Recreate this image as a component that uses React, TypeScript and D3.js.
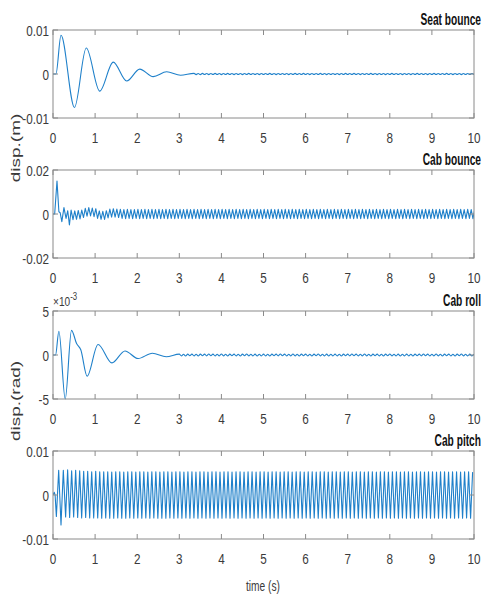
import React, { useEffect, useRef } from 'react'
import * as d3 from 'd3'

// ---- axis ticks ----
const timeTicks = [0, 1, 2, 3, 4, 5, 6, 7, 8, 9, 10]
const seatTicks = [-0.01, 0, 0.01]
const seatTickLabels = ['-0.01', '0', '0.01']
const cabBounceTicks = [-0.02, 0, 0.02]
const cabBounceTickLabels = ['-0.02', '0', '0.02']
const rollTicks = [-5, 0, 5]
const rollTickLabels = ['-5', '0', '5']
const pitchTicks = [-0.01, 0, 0.01]
const pitchTickLabels = ['-0.01', '0', '0.01']

// ---- seat bounce (mm) ----
const seatTimes = [0, 0.07, 0.19, 0.51, 0.79, 1.11, 1.43, 1.75, 2.06, 2.38, 2.7, 3.03, 3.35]
const seatValues = [0, 0, 8.8, -7.6, 5.9, -3.9, 2.7, -1.6, 1.1, -0.6, 0.5, -0.3, 0.15]
const seatRippleStart = 3.4
const seatRippleStep = 0.05
const seatRipple = [
     -0.14, 0.13, -0.15, 0.14, -0.12, 0.13, -0.14, 0.12, -0.13, 0.14,
     -0.12, 0.13, -0.14, 0.12, -0.13, 0.14, -0.12, 0.13, -0.14, 0.12,
     -0.13, 0.12, -0.14, 0.13, -0.12, 0.14, -0.13, 0.12, -0.12, 0.13,
     -0.14, 0.12, -0.13, 0.13, -0.12, 0.14, -0.13, 0.12, -0.14, 0.13,
     -0.12, 0.13, -0.13, 0.12, -0.14, 0.13, -0.12, 0.14, -0.13, 0.12,
     -0.13, 0.14, -0.12, 0.13, -0.14, 0.12, -0.13, 0.13, -0.12, 0.14,
     -0.13, 0.12, -0.14, 0.13, -0.12, 0.13, -0.13, 0.12, -0.14, 0.13,
     -0.12, 0.14, -0.13, 0.12, -0.13, 0.14, -0.12, 0.13, -0.14, 0.12,
     -0.13, 0.13, -0.12, 0.14, -0.13, 0.12, -0.14, 0.13, -0.12, 0.13,
     -0.14, 0.12, -0.13, 0.14, -0.12, 0.13, -0.13, 0.12, -0.14, 0.13,
     -0.12, 0.13, -0.14, 0.12, -0.13, 0.14, -0.12, 0.13, -0.13, 0.12,
     -0.14, 0.13, -0.12, 0.14, -0.13, 0.12, -0.13, 0.13, -0.12, 0.14,
     -0.13, 0.12, -0.14, 0.13, -0.12, 0.13, -0.14, 0.12, -0.13, 0.13,
     -0.12, 0.13, -0.13,
]

// ---- cab bounce (mm) ----
const cabBounceTimes = [0, 0.04, 0.095, 0.14, 0.17, 0.21, 0.26, 0.31, 0.35, 0.39, 0.43]
const cabBounceValues = [0, 0, 15, 1, 0.6, -3.5, 2.9, -2.0, 1.5, -5.0, 1.8]
const cabBounceRestStart = 0.475
const cabBounceRestStep = 1 / 24
const cabBounceRest = [
     -2.6, 1.4, -2.4, 1.6, -2.2, 1.8, -1.6,
     2.6, -1.0, 2.9, -0.9, 2.7, -1.2, 2.4,
     -2.0, 1.4, -2.4, 1.2, -2.5, 1.5,
     -1.8, 2.2, -1.4, 2.4, -1.4, 2.2, -1.6,
     2.1, -2.0, 2.0, -2.1, 2.1, -2.0, 2.0, -2.1, 2.0, -2.0,
     2.1, -2.1, 2.0, -2.0, 2.1, -2.1, 2.0, -2.0, 2.1, -2.1,
     2.0, -2.0, 2.1, -2.1, 2.0, -2.0, 2.1, -2.1, 2.0, -2.0,
     2.1, -2.1, 2.0, -2.0, 2.1, -2.0, 2.0, -2.1, 2.1, -2.0,
     2.0, -2.1, 2.1, -2.0, 2.0, -2.1, 2.1, -2.0, 2.0, -2.1,
     2.1, -2.0, 2.0, -2.1, 2.1, -2.0, 2.0, -2.1, 2.1, -2.0,
     2.0, -2.1, 2.1, -2.0, 2.0, -2.1, 2.1, -2.0, 2.0, -2.1,
     2.1, -2.0, 2.0, -2.1, 2.1, -2.0, 2.0, -2.1, 2.1, -2.0,
     2.0, -2.1, 2.1, -2.0, 2.0, -2.1, 2.1, -2.0, 2.0, -2.1,
     2.1, -2.0, 2.0, -2.1, 2.1, -2.0, 2.0, -2.1, 2.1, -2.0,
     2.0, -2.1, 2.1, -2.0, 2.0, -2.1, 2.1, -2.0, 2.0, -2.1,
     2.1, -2.0, 2.0, -2.1, 2.1, -2.0, 2.0, -2.1, 2.1, -2.0,
     2.0, -2.1, 2.1, -2.0, 2.0, -2.1, 2.1, -2.0, 2.0, -2.1,
     2.1, -2.0, 2.0, -2.1, 2.1, -2.0, 2.0, -2.1, 2.1, -2.0,
     2.0, -2.1, 2.1, -2.0, 2.0, -2.1, 2.1, -2.0, 2.0, -2.1,
     2.1, -2.0, 2.0, -2.1, 2.1, -2.0, 2.0, -2.1, 2.1, -2.0,
     2.0, -2.1, 2.1, -2.0, 2.0, -2.1, 2.1, -2.0, 2.0, -2.1,
     2.1, -2.0, 2.0, -2.1, 2.1, -2.0, 2.0, -2.1, 2.1, -2.0,
     2.0, -2.1, 2.1, -2.0, 2.0, -2.1, 2.1, -2.0, 2.0, -2.1,
     2.1, -2.0, 2.0, -2.1, 2.1, -2.0, 2.0, -2.1, 2.1, -2.0,
     2.0, -2.1, 2.1, -2.0, 2.0, -2.1, 2.1, -2.0, 2.0, -2.1,
     2.1, -2.0, 2.0,
]

// ---- cab roll (x10^-3 rad) ----
const rollTimes = [0, 0.06, 0.14, 0.29, 0.44, 0.56, 0.66, 0.81, 1.07, 1.4, 1.71, 2.02, 2.36, 2.69, 3.0]
const rollValues = [0, 0, 2.7, -5.0, 2.8, 1.3, 0.6, -2.4, 1.2, -0.9, 0.46, -0.4, 0.2, -0.2, 0.1]
const rollRippleStart = 3.05
const rollRippleStep = 0.05
const rollRipple = [
     -0.1, 0.09, -0.11, 0.1, -0.09, 0.1, -0.1, 0.09, -0.11, 0.1,
     -0.09, 0.1, -0.1, 0.11, -0.09, 0.1, -0.1, 0.09, -0.1, 0.11,
     -0.1, 0.09, -0.11, 0.1, -0.09, 0.1, -0.1, 0.09, -0.11, 0.1,
     -0.09, 0.11, -0.1, 0.09, -0.1, 0.1, -0.11, 0.09, -0.1, 0.1,
     -0.1, 0.09, -0.11, 0.1, -0.09, 0.1, -0.1, 0.11, -0.09, 0.1,
     -0.1, 0.09, -0.1, 0.11, -0.1, 0.09, -0.11, 0.1, -0.09, 0.1,
     -0.1, 0.09, -0.11, 0.1, -0.09, 0.11, -0.1, 0.09, -0.1, 0.1,
     -0.11, 0.09, -0.1, 0.1, -0.1, 0.09, -0.11, 0.1, -0.09, 0.1,
     -0.1, 0.11, -0.09, 0.1, -0.1, 0.09, -0.1, 0.11, -0.1, 0.09,
     -0.11, 0.1, -0.09, 0.1, -0.1, 0.09, -0.11, 0.1, -0.09, 0.11,
     -0.1, 0.09, -0.1, 0.1, -0.11, 0.09, -0.1, 0.1, -0.1, 0.09,
     -0.11, 0.1, -0.09, 0.1, -0.1, 0.11, -0.09, 0.1, -0.1, 0.09,
     -0.1, 0.11, -0.1, 0.09, -0.11, 0.1, -0.09, 0.1, -0.1, 0.09,
     -0.11, 0.1, -0.09, 0.11, -0.1, 0.09, -0.1, 0.1, -0.11, 0.09,
]

// ---- cab pitch (x10^-3 rad) ----
const pitchTimes = [0, 0.03, 0.05, 0.08, 0.135, 0.19, 0.245]
const pitchValues = [0, 0.6, 0, -4.9, 5.6, -6.8, 5.6]
const pitchRestStart = 0.3
const pitchRestStep = 1 / 21
const pitchRest = [
     -5.0, 5.7, -5.1, 5.5, -5.0, 5.6, -5.1, 5.5, -5.2, 5.4,
     -5.1, 5.4, -5.2, 5.3, -5.2, 5.4, -5.2, 5.3, -5.3, 5.3,
     -5.2, 5.3, -5.3, 5.2, -5.3, 5.3, -5.2, 5.3, -5.3, 5.2,
     -5.3, 5.3, -5.2, 5.3, -5.3, 5.2, -5.2, 5.3, -5.3, 5.3,
     -5.2, 5.2, -5.3, 5.3, -5.2, 5.3, -5.3, 5.2, -5.3, 5.3,
     -5.3, 5.3, -5.2, 5.2, -5.3, 5.3, -5.2, 5.3, -5.3, 5.2,
     -5.2, 5.3, -5.3, 5.3, -5.2, 5.2, -5.3, 5.3, -5.2, 5.3,
     -5.3, 5.2, -5.2, 5.3, -5.3, 5.3, -5.2, 5.2, -5.3, 5.3,
     -5.2, 5.3, -5.3, 5.2, -5.2, 5.3, -5.3, 5.3, -5.2, 5.2,
     -5.3, 5.3, -5.2, 5.3, -5.3, 5.2, -5.2, 5.3, -5.3, 5.3,
     -5.2, 5.2, -5.3, 5.3, -5.2, 5.3, -5.3, 5.2, -5.2, 5.3,
     -5.3, 5.3, -5.2, 5.2, -5.3, 5.3, -5.2, 5.3, -5.3, 5.2,
     -5.2, 5.3, -5.3, 5.3, -5.2, 5.2, -5.3, 5.3, -5.2, 5.3,
     -5.3, 5.2, -5.2, 5.3, -5.3, 5.3, -5.2, 5.2, -5.3, 5.3,
     -5.2, 5.3, -5.3, 5.2, -5.2, 5.3, -5.3, 5.3, -5.2, 5.2,
     -5.3, 5.3, -5.2, 5.3, -5.3, 5.2, -5.2, 5.3, -5.3, 5.3,
     -5.2, 5.2, -5.3, 5.3, -5.2, 5.3, -5.3, 5.2, -5.2, 5.3,
     -5.3, 5.3, -5.2, 5.2, -5.3, 5.3, -5.2, 5.3, -5.3, 5.2,
     -5.2, 5.3, -5.3, 5.3, -5.2, 5.2, -5.3, 5.3, -5.2, 5.3,
     -5.3, 5.2, -5.2, 5.3, -5.3, 5.3, -5.2, 5.2, -5.3, 5.3,
     -5.2, 5.3, -5.3, 5.2,
]

const buildSeries = (
     times: number[],
     values: number[],
     restStart: number,
     restStep: number,
     rest: number[],
     unit: number
): [number, number][] => {
     const pts: [number, number][] = times.map((t, i) => [t, values[i] * unit])
     rest.forEach((v, i) => pts.push([restStart + i * restStep, v * unit]))
     return pts
}

const font = "'Liberation Sans', Arial, Helvetica, sans-serif"
const lineColor = '#1f80ca'
const boxColor = '#8a8a8a'
const textColor = '#3a3a3a'

const App = () => {
     const svgRef = useRef<SVGSVGElement | null>(null)

     useEffect(() => {
          const width = 484
          const height = 599
          const plotLeft = 53
          const plotRight = 474
          const panelHeight = 88
          const tickLen = 5

          const svg = d3.select(svgRef.current)
          svg.selectAll('*').remove()
          svg.attr('width', width).attr('height', height)

          const addText = (
               parent: any,
               x: number,
               y: number,
               str: string,
               size: number,
               sx: number,
               anchor: string,
               weight = 'normal',
               rotate = false
          ) =>
               parent
                    .append('g')
                    .attr(
                         'transform',
                         `translate(${x},${y}) scale(${sx},1)` + (rotate ? ' rotate(-90)' : '')
                    )
                    .append('text')
                    .attr('text-anchor', anchor)
                    .style('font-family', font)
                    .style('font-size', size + 'px')
                    .style('font-weight', weight)
                    .attr('fill', weight === 'bold' ? '#111' : textColor)
                    .text(str)

          const panels = [
               {
                    title: 'Seat bounce',
                    top: 30,
                    domain: [-0.01, 0.01],
                    ticks: seatTicks,
                    tickLabels: seatTickLabels,
                    points: buildSeries(seatTimes, seatValues, seatRippleStart, seatRippleStep, seatRipple, 1e-3),
                    curve: d3.curveMonotoneX,
               },
               {
                    title: 'Cab bounce',
                    top: 170,
                    domain: [-0.02, 0.02],
                    ticks: cabBounceTicks,
                    tickLabels: cabBounceTickLabels,
                    points: buildSeries(cabBounceTimes, cabBounceValues, cabBounceRestStart, cabBounceRestStep, cabBounceRest, 1e-3),
                    curve: d3.curveLinear,
               },
               {
                    title: 'Cab roll',
                    top: 311,
                    domain: [-5, 5],
                    ticks: rollTicks,
                    tickLabels: rollTickLabels,
                    points: buildSeries(rollTimes, rollValues, rollRippleStart, rollRippleStep, rollRipple, 1),
                    curve: d3.curveMonotoneX,
                    exponent: true,
               },
               {
                    title: 'Cab pitch',
                    top: 451,
                    domain: [-0.01, 0.01],
                    ticks: pitchTicks,
                    tickLabels: pitchTickLabels,
                    points: buildSeries(pitchTimes, pitchValues, pitchRestStart, pitchRestStep, pitchRest, 1e-3),
                    curve: d3.curveLinear,
               },
          ]

          const xScale = d3.scaleLinear().domain([0, 10]).range([plotLeft, plotRight])

          panels.forEach((p, idx) => {
               const top = p.top
               const bottom = top + panelHeight
               const yScale = d3.scaleLinear().domain(p.domain).range([bottom, top])
               const g = svg.append('g')

               g.append('rect')
                    .attr('x', plotLeft)
                    .attr('y', top)
                    .attr('width', plotRight - plotLeft)
                    .attr('height', panelHeight)
                    .attr('fill', '#fff')

               const clipId = `clip-${idx}`
               g.append('clipPath')
                    .attr('id', clipId)
                    .append('rect')
                    .attr('x', plotLeft)
                    .attr('y', top - 1)
                    .attr('width', plotRight - plotLeft)
                    .attr('height', panelHeight + 2)

               const line = d3
                    .line<[number, number]>()
                    .x((d) => xScale(d[0]))
                    .y((d) => yScale(d[1]))
                    .curve(p.curve)

               g.append('path')
                    .datum(p.points)
                    .attr('clip-path', `url(#${clipId})`)
                    .attr('d', line)
                    .attr('fill', 'none')
                    .attr('stroke', lineColor)
                    .attr('stroke-width', 1.1)
                    .attr('stroke-linejoin', 'round')

               // box + inward ticks
               g.append('rect')
                    .attr('x', plotLeft)
                    .attr('y', top)
                    .attr('width', plotRight - plotLeft)
                    .attr('height', panelHeight)
                    .attr('fill', 'none')
                    .attr('stroke', boxColor)
                    .attr('stroke-width', 1)

               timeTicks.forEach((t) => {
                    const x = xScale(t)
                    g.append('line')
                         .attr('x1', x).attr('x2', x)
                         .attr('y1', top).attr('y2', top + tickLen)
                         .attr('stroke', boxColor)
                    g.append('line')
                         .attr('x1', x).attr('x2', x)
                         .attr('y1', bottom).attr('y2', bottom - tickLen)
                         .attr('stroke', boxColor)
                    addText(g, x, bottom + 25, String(t), 15, 0.78, 'middle')
               })

               p.ticks.forEach((v, i) => {
                    const y = yScale(v)
                    g.append('line')
                         .attr('x1', plotLeft).attr('x2', plotLeft + tickLen)
                         .attr('y1', y).attr('y2', y)
                         .attr('stroke', boxColor)
                    g.append('line')
                         .attr('x1', plotRight).attr('x2', plotRight - tickLen)
                         .attr('y1', y).attr('y2', y)
                         .attr('stroke', boxColor)
                    addText(g, plotLeft - 4, y + 6, p.tickLabels[i], 15, 0.78, 'end')
               })

               addText(g, 481, top - 5, p.title, 17, 0.6, 'end', 'bold')

               if (p.exponent) {
                    const ex = g
                         .append('g')
                         .attr('transform', `translate(${plotLeft},${top - 5}) scale(0.78,1)`)
                         .append('text')
                         .style('font-family', font)
                         .style('font-size', '13px')
                         .attr('fill', textColor)
                    ex.append('tspan').text('×10')
                    ex.append('tspan').attr('dy', -6).style('font-size', '10px').text('-3')
               }
          })

          addText(svg, 20, 148, 'disp.(m)', 19, 0.7, 'middle', 'normal', true)
          addText(svg, 20, 401, 'disp.(rad)', 19, 0.7, 'middle', 'normal', true)
          addText(svg, 263, 591, 'time (s)', 15, 0.68, 'middle')
     }, [])

     return (
          <svg
               ref={svgRef}
               style={{ position: 'absolute', left: 0, top: 0, display: 'block', background: '#fff' }}
          ></svg>
     )
}

export default App
